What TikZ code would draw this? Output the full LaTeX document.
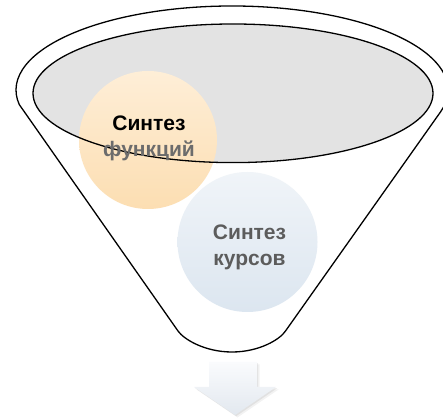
\documentclass[tikz,border=0pt]{standalone}
\usepackage{fontspec}
\setmainfont{Liberation Sans}
\definecolor{ellgray}{RGB}{227,227,227}
\definecolor{ortop}{RGB}{254,238,215}
\definecolor{orbot}{RGB}{252,222,178}
\definecolor{bltop}{RGB}{240,244,248}
\definecolor{blbot}{RGB}{220,230,240}
\definecolor{txgrayA}{RGB}{92,92,92}
\definecolor{txgrayB}{RGB}{108,108,108}
\definecolor{artop}{RGB}{250,251,253}
\definecolor{arbot}{RGB}{226,232,239}
\begin{document}
\begin{tikzpicture}[x=1pt,y=1pt,
  outline/.style={line width=1.3pt,draw=black,line join=round},
  bubble/.style={circle,inner sep=0pt,minimum size=#1},
  lbl/.style={align=center,font=\fontsize{21pt}{26pt}\selectfont\bfseries}]
\useasboundingbox (0,0) rectangle (443,419);
% funnel body
\coordinate (fc) at (232,329);
\coordinate (bl) at (178,88);
\coordinate (bm) at (232,67);
\coordinate (br) at (285.5,88);
\draw[outline,fill=white] (fc) ++(-15:216pt and 84pt)
  arc[start angle=-15,end angle=190,x radius=216pt,y radius=84pt]
  -- (bl) .. controls (184,79.5) and (205,67) .. (bm)
  .. controls (259,67) and (280,79.5) .. (br) -- cycle;
% inner ellipse fill
\coordinate (ec) at (233,325.7);
\fill[ellgray] (ec) ellipse[x radius=200pt,y radius=69.3pt];
% circles
\node[bubble=138pt,top color=ortop,bottom color=orbot] (cf) at (148,279) {};
\node[bubble=140pt,top color=bltop,bottom color=blbot] (cc) at (247.5,177) {};
% inner ellipse outline
\draw[outline] (ec) ellipse[x radius=200pt,y radius=69.3pt];
% labels
\node[lbl] (tf) at (149,280.5) {Синтез\\\textcolor{txgrayB}{функций}};
\node[lbl,text=txgrayA] (tc) at (249.5,171.5) {Синтез\\курсов};
% arrow
\coordinate (a1) at (209,57);
\coordinate (a2) at (257,57);
\coordinate (a3) at (257,32);
\coordinate (a4) at (276,32);
\coordinate (a5) at (235,4);
\coordinate (a6) at (194,32);
\coordinate (a7) at (209,32);
\fill[black,opacity=0.05] ([shift={(2.5,-2.5)}]a1) -- ([shift={(2.5,-2.5)}]a2) -- ([shift={(2.5,-2.5)}]a3) -- ([shift={(2.5,-2.5)}]a4) -- ([shift={(2.5,-2.5)}]a5) -- ([shift={(2.5,-2.5)}]a6) -- ([shift={(2.5,-2.5)}]a7) -- cycle;
\fill[black,opacity=0.07] ([shift={(1.2,-1.2)}]a1) -- ([shift={(1.2,-1.2)}]a2) -- ([shift={(1.2,-1.2)}]a3) -- ([shift={(1.2,-1.2)}]a4) -- ([shift={(1.2,-1.2)}]a5) -- ([shift={(1.2,-1.2)}]a6) -- ([shift={(1.2,-1.2)}]a7) -- cycle;
\shade[top color=artop,bottom color=arbot] (a1) -- (a2) -- (a3) -- (a4) -- (a5) -- (a6) -- (a7) -- cycle;
\end{tikzpicture}
\end{document}
